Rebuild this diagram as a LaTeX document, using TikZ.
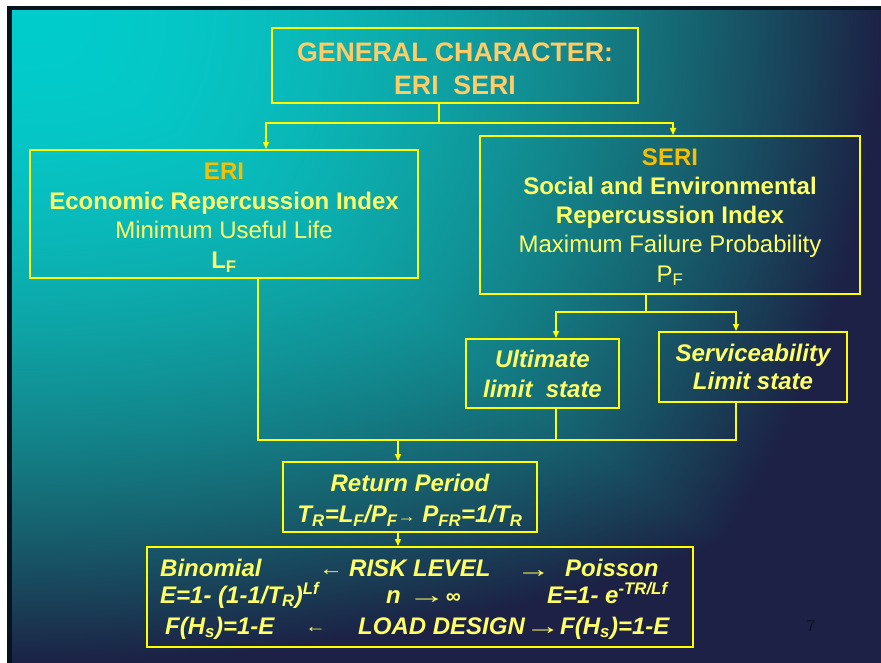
\documentclass[tikz,border=0pt]{standalone}
\usepackage{fontspec}
\usepackage{graphicx}
\setmainfont{Liberation Sans}
\usetikzlibrary{arrows.meta}
\definecolor{boxyellow}{HTML}{FFFF00}
\definecolor{txtyellow}{HTML}{FFFF66}
\definecolor{gold}{HTML}{F5C000}
\definecolor{titleorange}{HTML}{FFCC66}
\definecolor{slideedge}{HTML}{05141C}
\definecolor{pagenum}{HTML}{0A1522}
\pgfdeclarefunctionalshading{slidebg}{\pgfpoint{0bp}{0bp}}{\pgfpoint{870bp}{654bp}}{}{
654 exch sub 654 div exch 870 div
2 copy dup mul exch dup mul add
3 1 roll
2 copy lt {exch} if pop
dup mul add 0.5 mul
dup 1 gt {pop 1} if
dup sqrt 0.11 mul exch
dup -0.67 mul 0.80 add exch
dup dup mul 0.14 mul exch -0.67 mul add 0.80 add
}
\newcommand\bodyfont{\fontsize{24bp}{29.5bp}\selectfont}
\newcommand\thinarrow{\fontseries{m}\fontshape{n}\selectfont}
\newcommand\warrow[3]{{\thinarrow\fontsize{#1}{#1}\selectfont\scalebox{#2}[1]{#3}}}
\newcommand\topstrut[1]{\rule{0pt}{#1}}
\tikzset{
  box/.style={draw=boxyellow, line width=2bp, inner sep=0pt, align=center,
    text=txtyellow, font=\bodyfont},
  conn/.style={draw=boxyellow, line width=1.5bp},
  arr/.style={conn, -{Triangle[width=6bp,length=7bp]}},
  rtxt/.style={anchor=base west, inner sep=0pt, text=txtyellow,
    font=\bodyfont\bfseries\itshape},
}
\begin{document}
\begin{tikzpicture}[x=1bp,y=-1bp]
\useasboundingbox (0,0) rectangle (881,663);
\fill[white] (0,0) rectangle (881,663);
\fill[slideedge] (7.3,5.7) rectangle (881,663);
\node[inner sep=0pt, outer sep=0pt, anchor=north west] (bg) at (11,9.3) {\pgfuseshading{slidebg}};

% boxes
\node[box, minimum width=366bp, minimum height=75bp, text=titleorange,
  font=\fontsize{26.7bp}{33bp}\selectfont\bfseries] (gen) at (455,65.5)
  {\topstrut{25bp}GENERAL CHARACTER:\\ERI\ \ SERI};
\node[box, minimum width=388bp, minimum height=128bp] (eri) at (224,214)
  {\topstrut{24bp}{\bfseries\color{gold}ERI}\\{\bfseries Economic Repercussion Index}\\Minimum Useful Life\\{\bfseries L\textsubscript{F}}};
\node[box, minimum width=380bp, minimum height=158bp,
  font=\fontsize{24bp}{29.3bp}\selectfont] (seri) at (670,215)
  {\topstrut{21bp}{\bfseries\color{gold}SERI}\\{\bfseries Social and Environmental}\\{\bfseries Repercussion Index}\\Maximum Failure Probability\\P\textsubscript{F}};
\node[box, minimum width=153bp, minimum height=69bp,
  font=\fontsize{24bp}{30bp}\selectfont\bfseries\itshape] (ult) at (542.5,373.5)
  {Ultimate\\limit\ \ state};
\node[box, minimum width=188bp, minimum height=70bp,
  font=\fontsize{24bp}{28.5bp}\selectfont\bfseries\itshape] (serv) at (753,367)
  {Serviceability\\Limit state};
\node[box, minimum width=254bp, minimum height=70bp,
  font=\fontsize{24bp}{31bp}\selectfont\bfseries\itshape] (ret) at (410,497)
  {\topstrut{24bp}Return Period\\T\textsubscript{R}=L\textsubscript{F}/P\textsubscript{F}\warrow{18bp}{1}{→} P\textsubscript{FR}=1/T\textsubscript{R}};
\node[box, minimum width=546bp, minimum height=100bp] (risk) at (420,597) {};

% risk box texts
\node[rtxt] (t11) at (160,576) {Binomial};
\node[rtxt] (t12) at (319,575) {\warrow{20bp}{1.2}{←}};
\node[rtxt] (t13) at (349,576) {RISK LEVEL};
\node[rtxt] (t14) at (516,577) {\warrow{24bp}{1.45}{→}};
\node[rtxt] (t15) at (565,576) {Poisson};
\node[rtxt] (t21) at (160,603) {E=1- (1-1/T\textsubscript{R})\textsuperscript{Lf}};
\node[rtxt] (t22) at (386,603) {n\ \warrow{24bp}{1.6}{→}{\fontsize{21bp}{24bp}\selectfont∞}};
\node[rtxt] (t23) at (547,603) {E=1- e\textsuperscript{-TR/Lf}};
\node[rtxt] (t31) at (165,634) {F(H\textsubscript{s})=1-E};
\node[rtxt] (t32) at (305,632) {\warrow{18bp}{1.15}{←}};
\node[rtxt] (t33) at (358,634) {LOAD DESIGN\warrow{24bp}{1.5}{→}};
\node[rtxt] (t34) at (560,634) {F(H\textsubscript{s})=1-E};

% page number
\node[anchor=base, inner sep=0pt, text=pagenum, font=\fontsize{16bp}{18bp}\selectfont] (pg) at (811,631) {7};

% connectors
\coordinate (j1) at (439,123);
\coordinate (j1l) at (266,123);
\coordinate (j1r) at (673,123);
\draw[conn] (gen.south -| j1) -- (j1);
\draw[arr] (j1) -- (j1l) -- (j1l |- eri.north);
\draw[arr] (j1) -- (j1r) -- (j1r |- seri.north);

\coordinate (j2) at (646,312);
\coordinate (j2l) at (556,312);
\coordinate (j2r) at (736,312);
\draw[conn] (seri.south -| j2) -- (j2);
\draw[arr] (j2) -- (j2l) -- (j2l |- ult.north);
\draw[arr] (j2) -- (j2r) -- (j2r |- serv.north);

\coordinate (m1) at (258,440);
\coordinate (m2) at (556,440);
\coordinate (m3) at (736,440);
\coordinate (mc) at (398,440);
\draw[conn] (eri.south -| m1) -- (m1) -- (m3) -- (serv.south -| m3);
\draw[conn] (ult.south -| m2) -- (m2);
\draw[arr] (mc) -- (mc |- ret.north);
\draw[arr] (ret.south -| mc) -- (risk.north -| mc);
\end{tikzpicture}
\end{document}
